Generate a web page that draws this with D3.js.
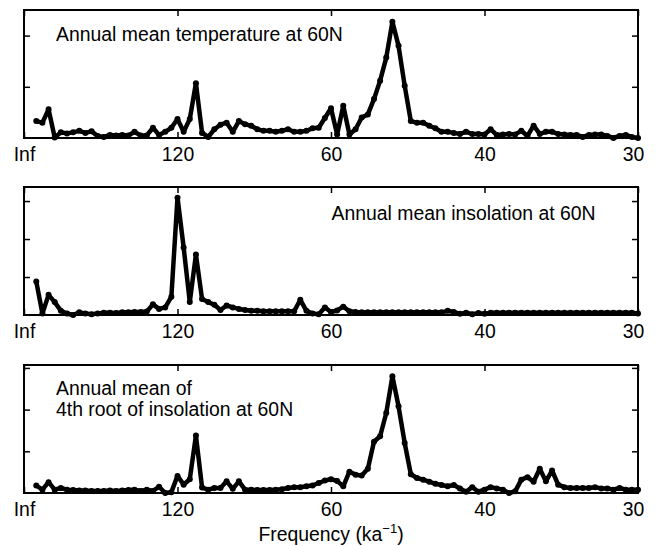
<!DOCTYPE html>
<html><head><meta charset="utf-8">
<script src="https://cdn.jsdelivr.net/npm/d3@7"></script>
<style>
body{margin:0;background:#fff}
svg{display:block}
text{font-family:"Liberation Sans",Arial,Helvetica,sans-serif;fill:#000}
</style>
</head><body>
<svg id="chart" width="660" height="546"></svg>
<script>
// ---- data ----
const binStep = 1 / 3000;          // spectral bin width (ka^-1)
const firstBin = 2;                // first plotted bin
const tickFreqs = [0, 1/120, 1/60, 1/40, 1/30];
const tickLabels = ["Inf", "120", "60", "40", "30"];
const xLabel = "Frequency (ka";
const xLabelSup = "\u22121";

const temperature = [
  0.33,0.30,0.56,0.01,0.11,0.09,0.11,0.14,0.10,0.13,
  0.04,0.02,0.06,0.05,0.06,0.05,0.12,0.05,0.05,0.20,
  0.06,0.12,0.20,0.37,0.12,0.37,1.07,0.10,0.02,0.17,
  0.26,0.30,0.12,0.33,0.27,0.24,0.17,0.14,0.14,0.12,
  0.14,0.17,0.12,0.12,0.14,0.19,0.20,0.39,0.58,0.07,
  0.63,0.07,0.17,0.40,0.46,0.76,1.12,1.57,2.27,1.80,
  1.02,0.33,0.30,0.30,0.24,0.19,0.12,0.12,0.10,0.08,
  0.12,0.08,0.08,0.07,0.17,0.06,0.07,0.08,0.07,0.14,
  0.04,0.24,0.08,0.12,0.12,0.08,0.07,0.06,0.06,0.02,
  0.06,0.07,0.07,0.04,0.00,0.04,0.06,0.02,0.00
];
const insolation = [
  0.88,0.04,0.53,0.34,0.11,0.04,0.00,0.07,0.04,0.02,
  0.04,0.06,0.06,0.05,0.07,0.07,0.08,0.08,0.09,0.28,
  0.16,0.20,0.48,3.09,1.78,0.34,1.59,0.42,0.34,0.27,
  0.13,0.25,0.20,0.16,0.13,0.11,0.11,0.10,0.10,0.10,
  0.10,0.10,0.10,0.40,0.11,0.04,0.02,0.20,0.08,0.12,
  0.22,0.10,0.08,0.07,0.07,0.07,0.07,0.07,0.07,0.07,
  0.07,0.07,0.07,0.07,0.07,0.07,0.07,0.11,0.08,0.03,
  0.06,0.02,0.05,0.03,0.06,0.06,0.06,0.06,0.06,0.06,
  0.06,0.06,0.06,0.06,0.06,0.06,0.06,0.06,0.06,0.06,
  0.06,0.06,0.06,0.06,0.06,0.06,0.06,0.06,0.04
];
const insolation4th = [
  0.18,0.08,0.26,0.08,0.12,0.08,0.07,0.06,0.06,0.05,
  0.05,0.05,0.06,0.05,0.06,0.07,0.08,0.05,0.08,0.05,
  0.15,0.00,0.02,0.41,0.20,0.33,1.38,0.13,0.08,0.12,
  0.12,0.28,0.10,0.28,0.08,0.08,0.07,0.07,0.07,0.08,
  0.09,0.12,0.14,0.14,0.16,0.18,0.24,0.30,0.33,0.29,
  0.16,0.51,0.44,0.42,0.58,1.23,1.36,1.92,2.80,2.08,
  1.20,0.45,0.36,0.32,0.27,0.22,0.19,0.16,0.19,0.11,
  0.03,0.14,0.03,0.08,0.14,0.11,0.08,0.00,0.04,0.32,
  0.38,0.27,0.58,0.28,0.54,0.20,0.14,0.12,0.12,0.12,
  0.12,0.14,0.11,0.11,0.08,0.12,0.08,0.08,0.08
];
const seriesList = [temperature, insolation, insolation4th];
const panelTitles = [
  ["Annual mean temperature at 60N"],
  ["Annual mean insolation at 60N"],
  ["Annual mean of", "4th root of insolation at 60N"]
];
const yTickValues = [[1, 2], [1, 2, 3], [1, 2, 3]];
const yMaxes = [2.5, 3.37, 3.07];

// ---- layout ----
const left = 24, right = 638, panelH = 128;
const panelTops = [10, 187, 365];
const titlePos = [[56, 31], [331.5, 33], [56, 30]];
const fontSize = 19.4;

const svg = d3.select("#chart");
const x = d3.scaleLinear().domain([0, 1/30]).range([left, right]);

seriesList.forEach((vals, i) => {
  const top = panelTops[i];
  const y = d3.scaleLinear().domain([0, yMaxes[i]]).range([top + panelH, top]);
  const g = svg.append("g");
  const pts = vals.map((v, j) => ({ f: (firstBin + j) * binStep, v }));

  const bx = g.append("g").attr("transform", `translate(0,${top + panelH})`)
    .call(d3.axisBottom(x).tickValues(tickFreqs).tickFormat((d, j) => tickLabels[j])
      .tickSizeInner(-6).tickSizeOuter(0).tickPadding(9));
  bx.selectAll("text").attr("font-size", fontSize)
    .attr("dx", (d, j) => j === tickLabels.length - 1 ? -5 : 0);
  g.append("g").attr("transform", `translate(0,${top})`)
    .call(d3.axisTop(x).tickValues(tickFreqs).tickFormat("").tickSizeInner(-6).tickSizeOuter(0));
  g.append("g").attr("transform", `translate(${left},0)`)
    .call(d3.axisLeft(y).tickValues(yTickValues[i]).tickFormat("").tickSizeInner(-6).tickSizeOuter(0));
  g.append("g").attr("transform", `translate(${right},0)`)
    .call(d3.axisRight(y).tickValues(yTickValues[i]).tickFormat("").tickSizeInner(-6).tickSizeOuter(0));
  g.selectAll(".domain").remove();
  g.selectAll(".tick line").attr("stroke", "#000").attr("stroke-width", 1.5);

  g.append("rect").attr("x", left).attr("y", top).attr("width", right - left).attr("height", panelH)
    .attr("fill", "none").attr("stroke", "#000").attr("stroke-width", 2);

  const t = g.append("text").attr("x", titlePos[i][0]).attr("y", top + titlePos[i][1])
    .attr("font-size", fontSize);
  panelTitles[i].forEach((line, li) => {
    t.append("tspan").attr("x", titlePos[i][0]).attr("dy", li === 0 ? 0 : 21).text(line);
  });

  const line = d3.line().x(d => x(d.f)).y(d => y(d.v));
  g.append("path").datum(pts).attr("d", line).attr("fill", "none")
    .attr("stroke", "#000").attr("stroke-width", 4.5).attr("stroke-linejoin", "round");
  g.selectAll("circle").data(pts).join("circle")
    .attr("cx", d => x(d.f)).attr("cy", d => y(d.v)).attr("r", 3).attr("fill", "#000");
});

const xl = svg.append("text").attr("x", (left + right) / 2).attr("y", 541)
  .attr("text-anchor", "middle").attr("font-size", fontSize);
xl.append("tspan").text(xLabel);
xl.append("tspan").attr("font-size", 13).attr("dy", -8).text(xLabelSup);
xl.append("tspan").attr("dy", 8).text(")");
</script>
</body></html>
